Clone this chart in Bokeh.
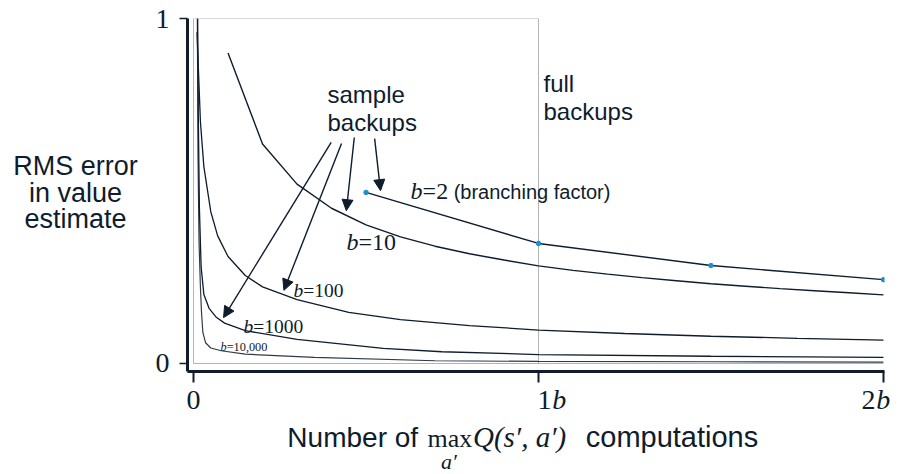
from bokeh.plotting import figure
from bokeh.layouts import row, column
from bokeh.models import Label, Arrow, NormalHead, FixedTicker, Range1d
from bokeh.embed import file_html
from bokeh.resources import INLINE

# ---------------- data ----------------
# x in units of b (number of max-Q computations / b), y = RMS error
b2_x = [0.5, 1.0, 1.5, 2.0]
b2_y = [0.496, 0.348, 0.284, 0.243]

b10_x = [0.1, 0.2, 0.3, 0.4, 0.5, 0.6, 0.7, 0.8, 0.9, 1.0,
         1.1, 1.2, 1.3, 1.4, 1.5, 1.6, 1.7, 1.8, 1.9, 2.0]
b10_y = [0.900, 0.636, 0.520, 0.450, 0.402, 0.367, 0.340, 0.318, 0.300, 0.283,
         0.270, 0.259, 0.249, 0.240, 0.231, 0.224, 0.217, 0.211, 0.205, 0.199]

b100_x = [0.01, 0.02, 0.03, 0.05, 0.07, 0.1, 0.15, 0.2, 0.3, 0.45,
          0.6, 0.8, 1.0, 1.25, 1.5, 1.75, 2.0]
b100_y = [0.96, 0.70, 0.57, 0.44, 0.37, 0.31, 0.255, 0.222, 0.185, 0.148,
          0.127, 0.110, 0.097, 0.087, 0.079, 0.073, 0.068]

b1000_x = [0.012, 0.014, 0.017, 0.022, 0.03, 0.045, 0.065, 0.09, 0.15,
           0.3, 0.55, 0.72, 1.0, 1.5, 2.0]
b1000_y = [1.0, 0.70, 0.45, 0.28, 0.20, 0.16, 0.135, 0.117, 0.095,
           0.070, 0.044, 0.034, 0.026, 0.021, 0.018]

b10000_x = [0.011, 0.013, 0.016, 0.02, 0.023, 0.027, 0.035, 0.05, 0.08,
            0.15, 0.35, 0.7, 1.0, 1.5, 2.0]
b10000_y = [1.0, 0.60, 0.35, 0.22, 0.15, 0.09, 0.06, 0.045, 0.037,
            0.027, 0.018, 0.008, 0.006, 0.005, 0.004]

x_ticks = [0, 1, 2]
x_tick_nums = ["0", "1", "2"]
x_tick_units = ["", "b", "b"]
y_ticks = [0, 1]
y_tick_labels = {0: "0", 1: "1"}
y_title_lines = ["RMS error", "in value", "estimate"]

INK = "#0e1c2c"
GRAY = "#b4b4b4"
DOT = "#1c8fd2"
SANS = "Liberation Sans"
SERIF = "Liberation Serif"

# ---------------- geometry (pixels) ----------------
TOTAL_W, TOTAL_H = 899, 474
LEFT_W = 150                 # strip holding the y-axis title
TOP_H = 384                  # height of the main plot row
FRAME_L, FRAME_R, FRAME_T, FRAME_B = 187, 884, 18, 371
X0, X1 = -0.0175, 2.003
Y0, Y1 = -0.0232, 1.0
PX_PER_X = (FRAME_R - FRAME_L) / (X1 - X0)
PX_PER_Y = (FRAME_B - FRAME_T) / (Y1 - Y0)
RAISE = 0.35                 # baseline correction, in em


def bare(**kw):
    f = figure(output_backend="svg", toolbar_location=None,
               x_axis_location=None, y_axis_location=None,
               min_border=0, **kw)
    f.outline_line_color = None
    f.grid.visible = False
    f.background_fill_color = "white"
    f.border_fill_color = "white"
    return f


def lab(fig, x, y, text, font=SANS, size=24, style="normal", align="left",
        px_flipped=False):
    # raise the text so that its baseline lands at y
    if px_flipped:
        y = y - RAISE * size
    else:
        y = y + RAISE * size / PX_PER_Y
    fig.add_layout(Label(x=x, y=y, x_units="data", y_units="data", text=text,
                         text_font=font, text_font_size=f"{size}px",
                         text_font_style=style, text_color=INK,
                         text_align=align, text_baseline="alphabetic"))


# ---------------- main plot ----------------
p = figure(width=TOTAL_W - LEFT_W, height=TOP_H, output_backend="svg",
           toolbar_location=None,
           x_range=Range1d(X0, X1), y_range=Range1d(Y0, Y1),
           min_border_left=FRAME_L - LEFT_W, min_border_right=TOTAL_W - FRAME_R,
           min_border_top=FRAME_T, min_border_bottom=TOP_H - FRAME_B)
p.outline_line_color = None
p.grid.visible = False
p.background_fill_color = "white"
p.border_fill_color = "white"

p.yaxis.ticker = FixedTicker(ticks=y_ticks)
p.yaxis.major_label_overrides = y_tick_labels
p.yaxis.major_label_text_font = SERIF
p.yaxis.major_label_text_font_size = "28px"
p.yaxis.major_label_text_color = INK
p.yaxis.major_label_standoff = 10
p.yaxis.axis_line_width = 3
p.yaxis.axis_line_color = INK
p.yaxis.major_tick_out = 8
p.yaxis.major_tick_in = 0
p.yaxis.major_tick_line_width = 1.5
p.yaxis.major_tick_line_color = INK
p.yaxis.minor_tick_line_color = None

p.xaxis.ticker = FixedTicker(ticks=x_ticks)
p.xaxis.major_label_overrides = {0: "", 1: "", 2: ""}
p.xaxis.major_label_text_font_size = "0px"
p.xaxis.major_label_standoff = 0
p.xaxis.axis_line_width = 3
p.xaxis.axis_line_color = INK
p.xaxis.major_tick_out = 11
p.xaxis.major_tick_in = 0
p.xaxis.major_tick_line_width = 2
p.xaxis.major_tick_line_color = INK
p.xaxis.minor_tick_line_color = None

# gray frame for 0..1b and the zero line
p.line([0, 0, 1, 1], [0, 1, 1, 0], line_color=GRAY, line_width=1)
p.line([0, 2], [0, 0], line_color=GRAY, line_width=1)

# curves
p.line(b10000_x, b10000_y, line_color="#2f3b48", line_width=1.2)
p.line(b1000_x, b1000_y, line_color=INK, line_width=1.3)
p.line(b100_x, b100_y, line_color=INK, line_width=1.3)
p.line(b10_x, b10_y, line_color=INK, line_width=1.4)
p.line(b2_x, b2_y, line_color=INK, line_width=1.4)
p.scatter(b2_x, b2_y, size=4.5, fill_color=DOT, line_color=DOT)

# in-plot annotations (baselines in data units)
lab(p, 0.3884, 0.7545, "sample", SANS, 24)
lab(p, 0.3884, 0.6733, "backups", SANS, 24)
lab(p, 1.0145, 0.788, "full", SANS, 24)
lab(p, 1.0145, 0.707, "backups", SANS, 24)

lab(p, 0.629, 0.4754, "b", SERIF, 24, style="italic")
lab(p, 0.664, 0.4754, "=2", SERIF, 24)
lab(p, 0.754, 0.4754, "(branching factor)", SANS, 20)

lab(p, 0.4435, 0.3275, "b", SERIF, 24, style="italic")
lab(p, 0.478, 0.3275, "=10", SERIF, 24)

lab(p, 0.290, 0.191, "b", SERIF, 19.5, style="italic")
lab(p, 0.318, 0.191, "=100", SERIF, 19.5)

lab(p, 0.145, 0.087, "b", SERIF, 19.5, style="italic")
lab(p, 0.173, 0.087, "=1000", SERIF, 19.5)

lab(p, 0.078, 0.0348, "b", SERIF, 12.3, style="italic")
lab(p, 0.096, 0.0348, "=10,000", SERIF, 12.3)

arrows = [((0.399, 0.641), (0.087, 0.133)),
          ((0.429, 0.638), (0.262, 0.212)),
          ((0.466, 0.655), (0.443, 0.443)),
          ((0.525, 0.652), (0.542, 0.501))]
for (xs, ys), (xe, ye) in arrows:
    p.add_layout(Arrow(end=NormalHead(size=11, fill_color=INK, line_color=INK,
                                      line_width=1),
                       x_start=xs, y_start=ys, x_end=xe, y_end=ye,
                       line_color=INK, line_width=1.4))

# ---------------- left strip: y-axis title (y in pixels from top) ----------------
left = bare(width=LEFT_W, height=TOP_H,
            x_range=Range1d(0, LEFT_W), y_range=Range1d(TOP_H, 0))
for i, t in enumerate(y_title_lines):
    lab(left, 75, 170 + i * 29, t, SANS, 27, align="center", px_flipped=True)

# ---------------- bottom strip: x tick labels and x-axis title ----------------
bx0 = X0 - FRAME_L / PX_PER_X
bx1 = X1 + (TOTAL_W - FRAME_R) / PX_PER_X
bottom = bare(width=TOTAL_W, height=TOTAL_H - TOP_H,
              x_range=Range1d(bx0, bx1), y_range=Range1d(TOTAL_H, TOP_H))

TICK_BASE = 409
lab(bottom, x_ticks[0], TICK_BASE, x_tick_nums[0], SERIF, 28, align="center", px_flipped=True)
lab(bottom, x_ticks[1] + 0.038, TICK_BASE, x_tick_nums[1], SERIF, 28, align="right", px_flipped=True)
lab(bottom, x_ticks[1] + 0.040, TICK_BASE, x_tick_units[1], SERIF, 28, style="italic", px_flipped=True)
lab(bottom, x_ticks[2] - 0.023, TICK_BASE, x_tick_nums[2], SERIF, 28, align="right", px_flipped=True)
lab(bottom, x_ticks[2] - 0.021, TICK_BASE, x_tick_units[2], SERIF, 28, style="italic", px_flipped=True)

TITLE_BASE = 447
lab(bottom, 0.272, TITLE_BASE, "Number of", SANS, 28, px_flipped=True)
lab(bottom, 0.678, TITLE_BASE, "max", SERIF, 26, px_flipped=True)
lab(bottom, 0.740, 469, "a\u2032", SERIF, 22, style="italic", align="center", px_flipped=True)
lab(bottom, 0.810, TITLE_BASE, "Q(s\u2032, a\u2032)", SERIF, 29, style="italic", px_flipped=True)
lab(bottom, 1.137, TITLE_BASE, "computations", SANS, 29, px_flipped=True)

layout = column(row(left, p, spacing=0), bottom, spacing=0)

open("out.html", "w").write(file_html(layout, INLINE))
